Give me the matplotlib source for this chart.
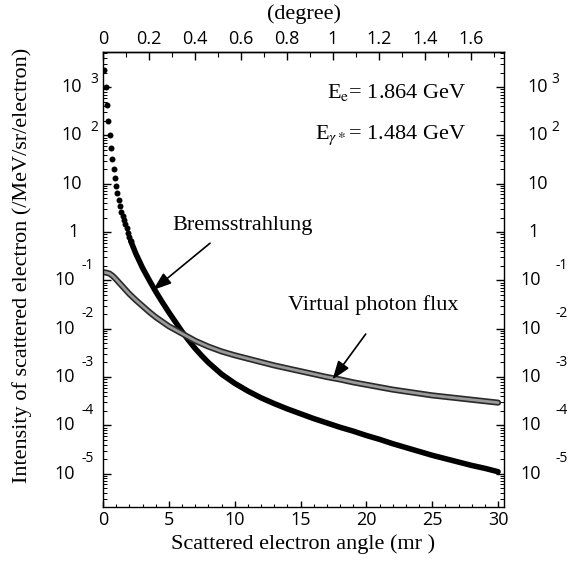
import numpy as np
import matplotlib
matplotlib.use('Agg')
import matplotlib.pyplot as plt
import matplotlib.transforms as mtransforms
from matplotlib.ticker import MultipleLocator, LogLocator, NullFormatter, FuncFormatter

# --- DATA (log10 of intensity) ---
# Bremsstrahlung, dotted part near 0 mr
brems_dot_x = [0.1, 0.2, 0.3, 0.4, 0.5, 0.6, 0.7, 0.8, 0.9, 1.0, 1.1,
               1.2, 1.3, 1.4, 1.5, 1.6, 1.7, 1.8, 1.9, 2.0, 2.1]
brems_dot_log = [3.35, 3.00, 2.63, 2.30, 2.01, 1.75, 1.51, 1.31, 1.12, 0.95, 0.80,
                 0.66, 0.54, 0.42, 0.33, 0.25, 0.16, 0.08, -0.01, -0.10, -0.18]
# Bremsstrahlung, dense part (looks like a solid line)
brems_x = [2.1, 2.5, 3, 3.5, 4, 4.5, 5, 5.5, 6, 6.5, 7, 7.5, 8, 9, 10, 11, 12, 13, 14, 15,
           16, 17, 18, 19, 20, 21, 22, 23, 24, 25, 26, 27, 28, 29, 30]
brems_log = [-0.18, -0.45, -0.74, -0.99, -1.23, -1.45, -1.66, -1.86, -2.06, -2.24, -2.41,
             -2.56, -2.70, -2.94, -3.13, -3.29, -3.43, -3.55, -3.66, -3.76, -3.86, -3.95,
             -4.04, -4.12, -4.21, -4.29, -4.38, -4.46, -4.54, -4.62, -4.69, -4.76, -4.83,
             -4.89, -4.96]
# Virtual photon flux
vpf_x = [0, 0.25, 0.5, 0.75, 1, 1.5, 2, 2.5, 3, 3.5, 4, 5, 6, 7, 8, 9, 10, 11, 12, 13, 14,
         15, 16, 17, 18, 19, 20, 21, 22, 23, 24, 25, 26, 27, 28, 29, 30]
vpf_log = [-0.83, -0.84, -0.86, -0.91, -0.98, -1.13, -1.28, -1.41, -1.53, -1.65, -1.76,
           -1.95, -2.10, -2.25, -2.37, -2.47, -2.55, -2.62, -2.69, -2.76, -2.82, -2.88,
           -2.94, -3.00, -3.05, -3.11, -3.16, -3.21, -3.26, -3.30, -3.34, -3.38, -3.41,
           -3.44, -3.47, -3.50, -3.53]

decades = [3, 2, 1, 0, -1, -2, -3, -4, -5]

SERIF = 'Liberation Serif'
SANS = 'Open Sans'
plt.rcParams['mathtext.fontset'] = 'stix'

W = 568
fig = plt.figure(figsize=(5.68, 5.68), dpi=100)
ax = fig.add_axes([103 / W, 1 - 507 / W, (504 - 103) / W, (507 - 52) / W])

ax.plot(brems_dot_x, 10 ** np.array(brems_dot_log), 'o', color='black', ms=4.3, mew=0)
ax.plot(brems_x, 10 ** np.array(brems_log), '-', color='black', lw=4.0,
        solid_capstyle='round', solid_joinstyle='round')
ax.plot(vpf_x, 10 ** np.array(vpf_log), '-', color='#2a2a2a', lw=4.4,
        solid_capstyle='round', solid_joinstyle='round')
ax.plot(vpf_x, 10 ** np.array(vpf_log), '-', color='#9a9a9a', lw=2.0,
        solid_capstyle='round', solid_joinstyle='round')

ax.set_yscale('log')
ax.set_ylim(10 ** -5.69, 10 ** 3.727)
ax.set_xlim(0, 30.45)

for s in ax.spines.values():
    s.set_linewidth(1.0)

ax.xaxis.set_major_locator(MultipleLocator(5))
ax.xaxis.set_minor_locator(MultipleLocator(1))
ax.tick_params(axis='x', which='both', direction='in', top=False, pad=3, labelsize=13)
ax.tick_params(axis='x', which='major', length=4.5, width=1.0)
ax.tick_params(axis='x', which='minor', length=2.5, width=0.8)
for lab in ax.get_xticklabels():
    lab.set_fontfamily(SANS)

ax.yaxis.set_major_locator(LogLocator(base=10, numticks=20))
ax.yaxis.set_minor_locator(LogLocator(base=10, subs=np.arange(2, 10), numticks=20))
ax.yaxis.set_minor_formatter(NullFormatter())
ax.tick_params(axis='y', which='both', direction='in', left=True, right=True,
               labelleft=False, labelright=False)
ax.tick_params(axis='y', which='major', length=5.8, width=1.0)
ax.tick_params(axis='y', which='minor', length=3.0, width=0.7)

# top axis in degrees
sec = ax.secondary_xaxis('top', functions=(lambda x: x * 0.180 / np.pi,
                                           lambda d: d * np.pi / 0.180))
sec.xaxis.set_major_locator(MultipleLocator(0.2))
sec.xaxis.set_minor_locator(MultipleLocator(0.1))
sec.xaxis.set_major_formatter(FuncFormatter(lambda v, p: '%g' % round(v, 1)))
sec.tick_params(axis='x', which='both', direction='in', pad=3, labelsize=13)
sec.tick_params(axis='x', which='major', length=5.5, width=1.0)
sec.tick_params(axis='x', which='minor', length=3.5, width=0.8)
sec.spines['top'].set_linewidth(1.0)
for lab in sec.get_xticklabels():
    lab.set_fontfamily(SANS)
sec.set_xlabel('(degree)', fontfamily=SERIF, fontsize=16, labelpad=8)

ax.set_xlabel('Scattered electron angle (mr )', fontfamily=SERIF, fontsize=16, labelpad=4)
fig.text(22 / W, 1 - 265 / W, 'Intensity of scattered electron (/MeV/sr/electron)',
         rotation=90, ha='center', va='center', fontfamily=SERIF, fontsize=16)

# decade labels, both sides
tr = mtransforms.blended_transform_factory(fig.transFigure, ax.transData)
for k in decades:
    y = 10.0 ** k
    if k == 0:
        ax.text(79 / W, y, '1', transform=tr, ha='right', va='center',
                fontfamily=SANS, fontsize=13)
        ax.text(528 / W, y, '1', transform=tr, ha='left', va='center',
                fontfamily=SANS, fontsize=13)
        continue
    if k > 0:
        ax.text(82 / W, y, '10', transform=tr, ha='right', va='center',
                fontfamily=SANS, fontsize=13)
        ax.text(527 / W, y, '10', transform=tr, ha='left', va='center',
                fontfamily=SANS, fontsize=13)
        if k > 1:
            up = mtransforms.offset_copy(tr, fig=fig, x=0, y=8, units='dots')
            ax.text(90 / W, y, str(k), transform=up, ha='left', va='center',
                    fontfamily=SANS, fontsize=10)
            ax.text(551 / W, y, str(k), transform=up, ha='left', va='center',
                    fontfamily=SANS, fontsize=10)
    else:
        ax.text(75 / W, y, '10', transform=tr, ha='right', va='center',
                fontfamily=SANS, fontsize=13)
        ax.text(520 / W, y, '10', transform=tr, ha='left', va='center',
                fontfamily=SANS, fontsize=13)
        up = mtransforms.offset_copy(tr, fig=fig, x=0, y=15, units='dots')
        ax.text(82 / W, y, str(k), transform=up, ha='left', va='center',
                fontfamily=SANS, fontsize=10)
        ax.text(555 / W, y, str(k), transform=up, ha='left', va='center',
                fontfamily=SANS, fontsize=10)

# energies
ax.text(27.6, 10 ** 2.88, r'E$_{\mathrm{e}}$= 1.864 GeV', ha='right', va='center',
        fontfamily=SERIF, fontsize=16)
ax.text(27.6, 10 ** 2.01, r'E$_{\gamma*}$= 1.484 GeV', ha='right', va='center',
        fontfamily=SERIF, fontsize=16)

# curve labels with arrows
ax.text(5.24, 10 ** 0.145, 'Bremsstrahlung', ha='left', va='center',
        fontfamily=SERIF, fontsize=16)
ax.text(14.08, 10 ** -1.51, 'Virtual photon flux', ha='left', va='center',
        fontfamily=SERIF, fontsize=16)
arrow = dict(arrowstyle='-|>,head_length=0.7,head_width=0.25', color='black',
             lw=1.2, shrinkA=0, shrinkB=0, mutation_scale=16)
ax.annotate('', xy=(3.8, 10 ** -1.20), xytext=(8.13, 10 ** -0.23), arrowprops=arrow)
ax.annotate('', xy=(17.43, 10 ** -3.05), xytext=(19.95, 10 ** -2.11), arrowprops=arrow)

fig.savefig('out.png', dpi=100)
